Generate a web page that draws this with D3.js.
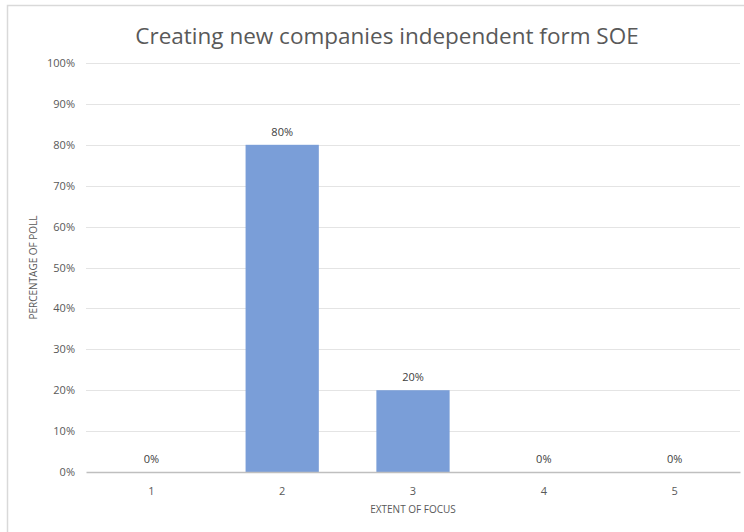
<!DOCTYPE html>
<html>
<head>
<meta charset="utf-8">
<script src="https://cdn.jsdelivr.net/npm/d3@7"></script>
<style>
  html, body { margin: 0; padding: 0; background: #fff; }
  svg { display: block; }
  text { font-family: "Open Sans", "Noto Sans", sans-serif; fill: #595959; }
</style>
</head>
<body>
<script>
// Poll results: share of respondents per extent-of-focus rating
const categories = ["1", "2", "3", "4", "5"];
const values = [0, 80, 20, 0, 0];
const yTicks = [0, 10, 20, 30, 40, 50, 60, 70, 80, 90, 100];
const title = "Creating new companies independent form SOE";
const xTitle = "EXTENT OF FOCUS";
const yTitle = "PERCENTAGE OF POLL";

const W = 744, H = 532;
const margin = { top: 63, right: 4, bottom: 60, left: 86 };
const innerW = W - margin.left - margin.right;
const innerH = H - margin.top - margin.bottom;

const svg = d3.select("body").append("svg")
  .attr("width", W).attr("height", H);

// chart frame (left and top edges)
svg.append("path")
  .attr("d", `M7.5,${H} V5.5 H${W}`)
  .attr("fill", "none")
  .attr("stroke", "#d9d9d9")
  .attr("stroke-width", 1.5);

const g = svg.append("g").attr("transform", `translate(${margin.left},${margin.top})`);

const x = d3.scaleBand().domain(categories).range([0, innerW]).paddingInner(0.44).paddingOuter(0.22);
const y = d3.scaleLinear().domain([0, 100]).range([innerH, 0]);

// gridlines
g.append("g").selectAll("line")
  .data(yTicks.filter(t => t > 0))
  .join("line")
  .attr("x1", 0).attr("x2", innerW)
  .attr("y1", d => Math.round(y(d)) + 0.5).attr("y2", d => Math.round(y(d)) + 0.5)
  .attr("stroke", "#e4e4e4").attr("stroke-width", 1);

// y tick labels
const yAxis = d3.axisLeft(y).tickValues(yTicks).tickFormat(d => d + "%").tickSize(0).tickPadding(11);
const ya = g.append("g").call(yAxis);
ya.select(".domain").remove();
ya.selectAll("text").attr("font-size", 11).style("fill", "#595959")
  .style("font-family", '"Open Sans", "Noto Sans", sans-serif');

// bars
g.append("g").selectAll("rect")
  .data(values)
  .join("rect")
  .attr("x", (d, i) => x(categories[i]))
  .attr("y", d => y(d))
  .attr("width", x.bandwidth())
  .attr("height", d => innerH - y(d))
  .attr("fill", "#7a9ed8");

// value labels
g.append("g").selectAll("text")
  .data(values)
  .join("text")
  .attr("x", (d, i) => x(categories[i]) + x.bandwidth() / 2)
  .attr("y", d => y(d) - 9)
  .attr("text-anchor", "middle")
  .attr("font-size", 11)
  .style("fill", "#404040")
  .text(d => d + "%");

// x axis baseline and labels
const xAxis = d3.axisBottom(x).tickSize(0).tickPadding(15);
const xa = g.append("g").attr("transform", `translate(0,${innerH})`).call(xAxis);
xa.select(".domain").attr("stroke", "#bfbfbf").attr("stroke-width", 1.5);
xa.selectAll("text").attr("font-size", 11).style("fill", "#595959")
  .style("font-family", '"Open Sans", "Noto Sans", sans-serif');

// titles
svg.append("text")
  .attr("x", 387).attr("y", 44)
  .attr("text-anchor", "middle")
  .attr("font-size", 22.5)
  .text(title);

svg.append("text")
  .attr("x", margin.left + innerW / 2).attr("y", 513)
  .attr("text-anchor", "middle")
  .attr("font-size", 10)
  .text(xTitle);

svg.append("text")
  .attr("transform", `translate(37,${margin.top + innerH / 2}) rotate(-90)`)
  .attr("text-anchor", "middle")
  .attr("font-size", 10)
  .text(yTitle);
</script>
</body>
</html>
